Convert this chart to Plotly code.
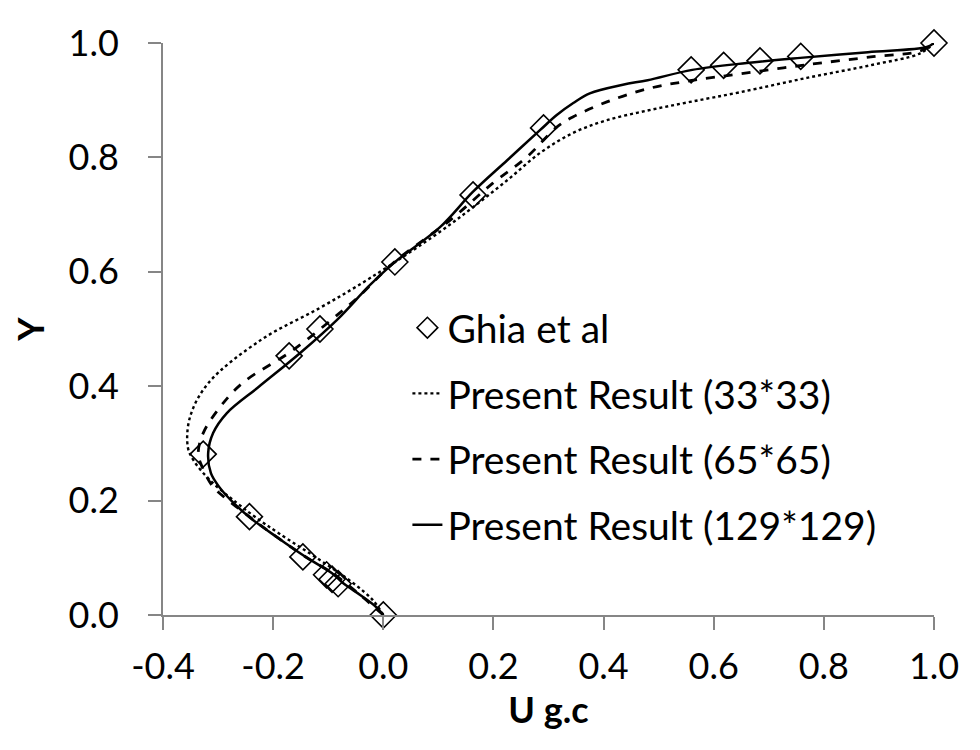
import plotly.graph_objects as go

# Ghia et al reference points (u velocity on the vertical centreline)
ghia_y = [1.0, 0.9766, 0.9688, 0.9609, 0.9531, 0.8516, 0.7344, 0.6172,
          0.5, 0.4531, 0.2813, 0.1719, 0.1016, 0.0703, 0.0625, 0.0547, 0.0]
ghia_u = [1.0, 0.758, 0.684, 0.618, 0.559, 0.291, 0.163, 0.021,
          -0.115, -0.171, -0.327, -0.243, -0.146, -0.103, -0.093, -0.082, 0.0]

# present results
y_33 = [0.0, 0.026, 0.056, 0.096, 0.143, 0.171, 0.196, 0.236, 0.271, 0.294,
        0.346, 0.405, 0.481, 0.537, 0.589, 0.670, 0.713, 0.760, 0.808, 0.843,
        0.865, 0.882, 0.897, 0.914, 0.939, 0.962, 0.982, 1.0]
u_33 = [0.0, -0.019, -0.055, -0.115, -0.190, -0.232, -0.266, -0.315, -0.345, -0.355,
        -0.351, -0.318, -0.222, -0.115, -0.024, 0.103, 0.163, 0.225, 0.285, 0.345,
        0.406, 0.480, 0.557, 0.648, 0.769, 0.889, 0.975, 1.0]

y_65 = [0.0, 0.035, 0.073, 0.101, 0.136, 0.171, 0.201, 0.224, 0.259, 0.283,
        0.318, 0.364, 0.406, 0.463, 0.533, 0.559, 0.617, 0.690, 0.755, 0.801,
        0.853, 0.871, 0.897, 0.920, 0.934, 0.946, 0.962, 0.976, 0.986, 1.0]
u_65 = [0.0, -0.042, -0.092, -0.140, -0.193, -0.242, -0.282, -0.309, -0.329, -0.336,
        -0.327, -0.296, -0.255, -0.164, -0.073, -0.042, 0.020, 0.121, 0.199, 0.261,
        0.315, 0.345, 0.406, 0.480, 0.557, 0.648, 0.769, 0.889, 0.975, 1.0]

y_129 = [0.0, 0.014, 0.035, 0.055, 0.073, 0.101, 0.136, 0.171, 0.200, 0.224,
         0.248, 0.283, 0.318, 0.353, 0.399, 0.458, 0.516, 0.577, 0.617, 0.678,
         0.740, 0.795, 0.848, 0.874, 0.895, 0.912, 0.927, 0.935, 0.953, 0.965,
         0.974, 0.984, 0.993, 1.0]
u_129 = [0.0, -0.013, -0.042, -0.072, -0.093, -0.140, -0.193, -0.243, -0.276, -0.298,
         -0.313, -0.318, -0.309, -0.284, -0.226, -0.151, -0.084, -0.024, 0.021, 0.103,
         0.163, 0.225, 0.285, 0.315, 0.345, 0.375, 0.435, 0.480, 0.561, 0.660,
         0.757, 0.880, 0.987, 1.0]

x_ticks = [-0.4, -0.2, 0.0, 0.2, 0.4, 0.6, 0.8, 1.0]
y_ticks = [0.0, 0.2, 0.4, 0.6, 0.8, 1.0]

FONT = "Lato"
AXIS_GREY = "#868686"

fig = go.Figure()

fig.add_trace(go.Scatter(
    x=ghia_u, y=ghia_y,
    mode="markers",
    name="Ghia et al",
    legendgroup="a",
    marker=dict(symbol="diamond-open", size=20, color="black",
                line=dict(width=1.6, color="black")),
    cliponaxis=False
))

fig.add_trace(go.Scatter(
    x=u_33, y=y_33,
    mode="lines",
    name="Present Result (33*33)",
    legendgroup="b",
    line=dict(color="black", width=2.4, dash="dot", shape="spline"),
    cliponaxis=False
))

fig.add_trace(go.Scatter(
    x=u_65, y=y_65,
    mode="lines",
    name="Present Result (65*65)",
    legendgroup="c",
    line=dict(color="black", width=2.8, dash="dash", shape="spline"),
    cliponaxis=False
))

fig.add_trace(go.Scatter(
    x=u_129, y=y_129,
    mode="lines",
    name="Present Result (129*129)",
    legendgroup="d",
    line=dict(color="black", width=2.5, shape="spline"),
    cliponaxis=False
))

# the page body adds 8px, so margins are shifted to land the plot where it should
fig.update_layout(
    width=980,
    height=750,
    margin=dict(l=155, r=54, t=35, b=143, autoexpand=False),
    paper_bgcolor="white",
    plot_bgcolor="white",
    font=dict(family=FONT, size=36, color="black"),
    showlegend=True,
    legend=dict(
        x=0.317, y=0.558,
        xanchor="left", yanchor="top",
        bgcolor="rgba(0,0,0,0)",
        font=dict(family=FONT, size=39, color="black"),
        tracegroupgap=12,
        itemwidth=30
    )
)

fig.update_xaxes(
    range=[-0.4, 1.0],
    tickvals=x_ticks,
    ticktext=[f"{v:.1f}" for v in x_ticks],
    tickfont=dict(family=FONT, size=36),
    showgrid=False,
    zeroline=False,
    showline=True,
    linecolor=AXIS_GREY,
    linewidth=2,
    ticks="outside",
    ticklen=13,
    tickwidth=2,
    tickcolor=AXIS_GREY,
    ticklabelstandoff=6,
    title=dict(text="<b>U g.c</b>", font=dict(family=FONT, size=36), standoff=4)
)

fig.update_yaxes(
    range=[0.0, 1.0],
    tickvals=y_ticks,
    ticktext=[f"{v:.1f}" for v in y_ticks],
    tickfont=dict(family=FONT, size=36),
    showgrid=False,
    zeroline=False,
    showline=True,
    linecolor=AXIS_GREY,
    linewidth=2,
    ticks="outside",
    ticklen=13,
    tickwidth=2,
    tickcolor=AXIS_GREY,
    ticklabelstandoff=22,
    title=dict(text="<b>Y</b>", font=dict(family=FONT, size=36), standoff=18)
)

fig.write_html("out.html")
